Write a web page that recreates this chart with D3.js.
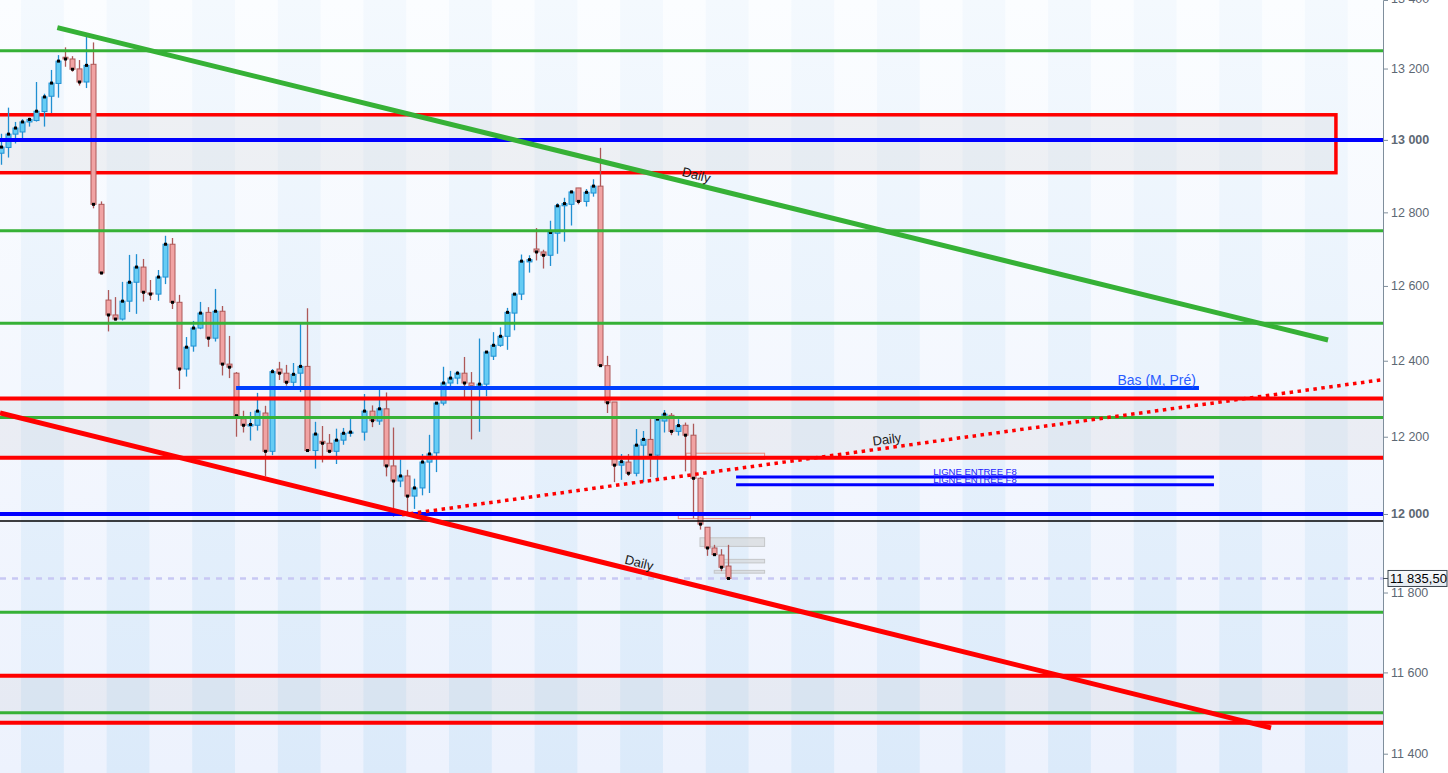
<!DOCTYPE html>
<html><head><meta charset="utf-8">
<script src="https://cdn.jsdelivr.net/npm/d3@7"></script>
<style>html,body{margin:0;padding:0;background:#fff;overflow:hidden}svg{display:block}</style>
</head><body>
<svg id="c" width="1448" height="773"></svg>
<script>
// ---------- DATA ----------
const opens  = [12963,12979,13016,13022,13050,13054,13079,13122,13158,13232,13227,13199,13162,13212,12822,12562,12522,12511,12559,12610,12651,12581,12578,12624,12713,12556,12378,12439,12487,12529,12460,12532,12391,12367,12247,12228,12230,12262,12162,12378,12367,12343,12367,12385,12164,12188,12183,12162,12191,12209,null,12212,12267,12241,12273,12124,12085,12098,12046,12067,12134,12158,12288,12341,12354,12367,12341,12330,12338,12412,12441,12465,12527,12578,12665,12700,12692,12683,12743,12818,12822,12867,12830,12853,12872,12387,12291,12126,12134,12105,12178,12193,12152,12241,12256,12214,12230,12204,12092,11966,11913,11895,11867];
const highs  = [13017,13090,13050,13058,13062,13162,13129,13196,13238,13260,13235,13224,13290,13274,12830,12589,12570,12611,12684,12686,12673,12616,12643,12736,12730,12576,12463,12506,12557,12543,12592,12546,12466,12370,12268,12265,12315,12281,12378,12397,12389,12394,12498,12540,12239,12228,12207,12221,12223,12247,null,12312,12282,12323,12316,12224,12141,12114,12091,12155,12205,12290,12384,12373,12373,12410,12370,12459,12423,12476,12489,12541,12581,12685,12683,12757,12698,12777,12825,12840,12860,12867,12864,12891,12978,12413,12291,12155,12155,12220,12215,12246,12246,12270,12262,12246,12237,12234,12095,11966,11921,11910,11921];
const lows   = [12931,12951,12990,13005,13037,13051,13037,13075,13118,13205,13191,13152,13145,12811,12631,12478,12507,12507,12530,12525,12558,12562,12560,12605,12538,12325,12358,12424,12484,12437,12451,12361,12354,12200,12211,12190,12216,12097,12152,12349,12334,12332,12317,12161,12117,12133,12157,12129,12179,12200,null,12190,12225,12231,12097,11993,12069,12002,12013,12048,12054,12108,12282,12332,12338,12297,12193,12213,12306,12402,12437,12429,12481,12562,12636,12669,12647,12654,12687,12720,12764,12822,12816,12843,12387,12262,12082,12088,12098,12097,12082,12095,12093,12211,12204,12203,12110,11989,11960,11893,11893,11854,11834];
const closes = [12980,13016,13033,13050,13057,13080,13120,13159,13221,13227,13198,13162,13209,12822,12635,12522,12511,12559,12610,12651,12583,12578,12624,12713,12556,12378,12436,12487,12527,12460,12532,12391,12383,12255,12230,12232,12267,12162,12371,12367,12343,12364,12385,12164,12207,12183,12162,12191,12209,12212,null,12267,12242,12273,12124,12085,12098,12046,12067,12134,12155,12288,12341,12354,12367,12341,12330,12338,12423,12441,12465,12529,12578,12667,12671,12692,12683,12745,12818,12824,12856,12830,12855,12872,12387,12289,12126,12135,12105,12178,12193,12152,12246,12259,12214,12229,12204,12092,11974,11913,11896,11864,11835.5];
const lastPrice = 11835.5;
const priceTicks = [11400,11600,11800,12000,12200,12400,12600,12800,13000,13200,13400];
const boldTicks = [12000,13000];
const greenLevels = [13250,12750,12500,12250,11750,11500];
const redLevels = [12300,12145,11592,11476];
const blueLevels = [13000,12000];
const blackLevels = [11982];
const greyZones = [[12300,12145],[11592,11476]];
const boxZone = {top:13070, bottom:12909, x0:-5, x1:187.2};
const basLevel = {price:12328, x0:33, x1:168, label:"Bas (M, Pré)"};
const entryLevels = [12095,12075];
const entryRange = [103.1,170.1];
const entryLabel = "LIGNE ENTREE F8";
const greenTrend = [[7.94,13316],[186.1,12455]];
const redTrend = [[-0.1,12262],[178.1,11463]];
const dottedTrend = [[56.26,11998],[193.8,12350]];
const trendLabel = "Daily";
const orderBoxes = [ // [x0,x1,pTop,pBottom,type]
  [96.1,107.1,12157,12141,"s"],
  [95.0,105.1,11999,11988,"s"],
  [98.04,107.1,11939,11917,"g"],
  [101.0,107.1,11884,11875,"g"],
  [100.04,107.1,11856,11849,"g"]
];
const dayLength = 6, dayOffset = 2.85;

// ---------- SCALES ----------
const W = 1448, H = 773, PR = 1383;
const svg = d3.select("#c");
const x = d3.scaleLinear().domain([-0.1, 193.8]).range([0, PR]);
const y = d3.scaleLog().domain([11353, 13395]).range([H, 0]);

const defs = svg.append("defs");
function grad(id, c0, c1){
  const g = defs.append("linearGradient").attr("id",id).attr("x1",0).attr("y1",0).attr("x2",0).attr("y2",1);
  g.append("stop").attr("offset","0%").attr("stop-color",c0);
  g.append("stop").attr("offset","100%").attr("stop-color",c1);
}
grad("gLight","#fbfdff","#edf2fd");
grad("gBlue","#f4f9fe","#dbeafa");
grad("gBox","#f8fafc","#e4eaf0");
defs.append("clipPath").attr("id","plot").append("rect").attr("x",0).attr("y",0).attr("width",PR).attr("height",H);

const plot = svg.append("g").attr("clip-path","url(#plot)");
plot.append("rect").attr("x",0).attr("y",0).attr("width",PR).attr("height",H).attr("fill","url(#gLight)");
const stripes = d3.range(0, 17).map(k => dayOffset + k*2*dayLength);
plot.selectAll("rect.st").data(stripes).join("rect").attr("class","st")
  .attr("x", d => x(d)).attr("y",0).attr("width", d => x(d+dayLength)-x(d)).attr("height",H)
  .attr("fill","url(#gBlue)");

// zones
plot.selectAll("rect.zone").data(greyZones).join("rect").attr("class","zone")
  .attr("x",0).attr("width",PR).attr("y",d=>y(d[0])).attr("height",d=>y(d[1])-y(d[0]))
  .attr("fill","rgb(200,200,205)").attr("fill-opacity",0.2);
plot.append("rect").attr("x",x(boxZone.x0)).attr("width",x(boxZone.x1)-x(boxZone.x0))
  .attr("y",y(boxZone.top)).attr("height",y(boxZone.bottom)-y(boxZone.top))
  .attr("fill","rgb(200,200,205)").attr("fill-opacity",0.22)
  .attr("stroke","#ff0000").attr("stroke-width",3.5);

// order boxes
plot.selectAll("rect.ob").data(orderBoxes).join("rect").attr("class","ob")
  .attr("x",d=>x(d[0])).attr("width",d=>x(d[1])-x(d[0]))
  .attr("y",d=>y(d[2])).attr("height",d=>Math.max(2,y(d[3])-y(d[2])))
  .attr("fill",d=>d[4]==="g"?"#d6d8da":"none").attr("fill-opacity",0.7)
  .attr("stroke",d=>d[4]==="g"?"#c4c6c8":"#f08a7a").attr("stroke-width",1);

// candles
const idx = d3.range(opens.length).filter(i => opens[i] !== null);
const bw = 5;
const cg = plot.append("g");
const cd = cg.selectAll("g.c").data(idx).join("g").attr("class","c");
const up = i => closes[i] >= opens[i];
cd.append("line")
  .attr("x1",i=>Math.round(x(i))+0.5).attr("x2",i=>Math.round(x(i))+0.5)
  .attr("y1",i=>y(highs[i])).attr("y2",i=>y(lows[i]))
  .attr("stroke",i=>up(i)?"#1f8fd2":"#ad5858").attr("stroke-width",1.3);
cd.append("rect")
  .attr("x",i=>Math.round(x(i))+0.5-bw/2).attr("width",bw)
  .attr("y",i=>y(Math.max(opens[i],closes[i])))
  .attr("height",i=>Math.max(1,Math.abs(y(opens[i])-y(closes[i]))))
  .attr("fill",i=>up(i)?"#66ccf4":"#f1a3a3")
  .attr("stroke",i=>up(i)?"#1f8fd2":"#ad5858").attr("stroke-width",1);
cd.append("rect")
  .attr("x",i=>Math.round(x(i))+0.5-1.5).attr("y",i=>y(closes[i])-1.5)
  .attr("width",3).attr("height",3).attr("fill","#000");

// horizontal lines
function hline(vals, color, w, x0, x1){
  plot.append("g").selectAll("line").data(vals).join("line")
    .attr("x1", x0===undefined?0:x(x0)).attr("x2", x1===undefined?PR:x(x1))
    .attr("y1", d=>y(d)).attr("y2", d=>y(d))
    .attr("stroke", color).attr("stroke-width", w);
}
hline(greenLevels, "#36b136", 3);
hline(redLevels, "#ff0000", 4);
hline(blueLevels, "#0000ff", 4);
hline(blackLevels, "#000000", 1.3);
hline([basLevel.price], "#0040ff", 4, basLevel.x0, basLevel.x1);
hline(entryLevels, "#0000ff", 3, entryRange[0], entryRange[1]);
// current price dashed
plot.append("line").attr("x1",0).attr("x2",PR).attr("y1",y(lastPrice)).attr("y2",y(lastPrice))
  .attr("stroke","#c8c8f4").attr("stroke-width",2.5).attr("stroke-dasharray","6,6");

// trend lines
function tline(pts, color, w, dash){
  const l = plot.append("line").attr("x1",x(pts[0][0])).attr("y1",y(pts[0][1]))
    .attr("x2",x(pts[1][0])).attr("y2",y(pts[1][1])).attr("stroke",color).attr("stroke-width",w);
  if(dash) l.attr("stroke-dasharray",dash);
}
tline(greenTrend, "#36b136", 5);
tline(redTrend, "#ff0000", 5);
tline(dottedTrend, "#ff0000", 3.5, "3.5,4.5");

function tlabel(pts, at, off){
  const x0=x(pts[0][0]), y0=y(pts[0][1]), x1=x(pts[1][0]), y1=y(pts[1][1]);
  const ang = Math.atan2(y1-y0, x1-x0);
  const px = x0 + (x1-x0)*at, py = y0 + (y1-y0)*at;
  const tx = px + Math.sin(ang)*off, ty = py - Math.cos(ang)*off;
  plot.append("text").attr("transform",`translate(${tx},${ty}) rotate(${ang*180/Math.PI})`)
    .attr("text-anchor","middle").attr("font-family","Liberation Sans, Arial, sans-serif")
    .attr("font-size",13).attr("fill","#1a1a1a").text(trendLabel);
}
tlabel(greenTrend, (694-x(greenTrend[0][0]))/(x(greenTrend[1][0])-x(greenTrend[0][0])), 5);
tlabel(redTrend, (637-x(redTrend[0][0]))/(x(redTrend[1][0])-x(redTrend[0][0])), 4);
tlabel(dottedTrend, (888-x(dottedTrend[0][0]))/(x(dottedTrend[1][0])-x(dottedTrend[0][0])), 4);

// level labels
plot.append("text").attr("x",x(basLevel.x1)-3).attr("y",y(basLevel.price)-3)
  .attr("text-anchor","end").attr("font-family","Liberation Sans, Arial, sans-serif")
  .attr("font-size",14).attr("fill","#2a5cff").text(basLevel.label);
entryLevels.forEach((p,k)=>{
  plot.append("text").attr("x", x((entryRange[0]+entryRange[1])/2)).attr("y", y(entryLevels[0]) - 2.5 + k*8)
    .attr("text-anchor","middle").attr("font-family","Liberation Sans, Arial, sans-serif")
    .attr("font-size",9.5).attr("fill","#1a1aff").attr("text-decoration","underline").text(entryLabel);
});

// axis
const fmt = v => d3.format(",")(v).replace(/,/g," ");
const ax = svg.append("g").attr("transform",`translate(${PR},0)`)
  .call(d3.axisRight(y).tickValues(priceTicks).tickSize(5).tickPadding(3).tickFormat(fmt));
ax.select(".domain").attr("stroke","#7f8e9c");
ax.selectAll(".tick line").attr("stroke","#7f8e9c");
ax.selectAll(".tick text").attr("font-family","Liberation Sans, Arial, sans-serif")
  .attr("font-size",12.5).attr("fill","#5d6874")
  .attr("font-weight", d => boldTicks.includes(d) ? "bold" : "normal");

// last price box
const ly = y(lastPrice);
svg.append("line").attr("x1",PR).attr("x2",PR+5).attr("y1",ly).attr("y2",ly).attr("stroke","#44505c");
svg.append("rect").attr("x",1388).attr("y",ly-8).attr("width",59).attr("height",16)
  .attr("fill","url(#gBox)").attr("stroke","#3c4650").attr("stroke-width",1);
svg.append("text").attr("x",1390).attr("y",ly+4.5).attr("font-family","Liberation Sans, Arial, sans-serif")
  .attr("font-size",13).attr("fill","#000").text(d3.format(",.2f")(lastPrice).replace(",", " ").replace(".", ","));
</script>
</body></html>
